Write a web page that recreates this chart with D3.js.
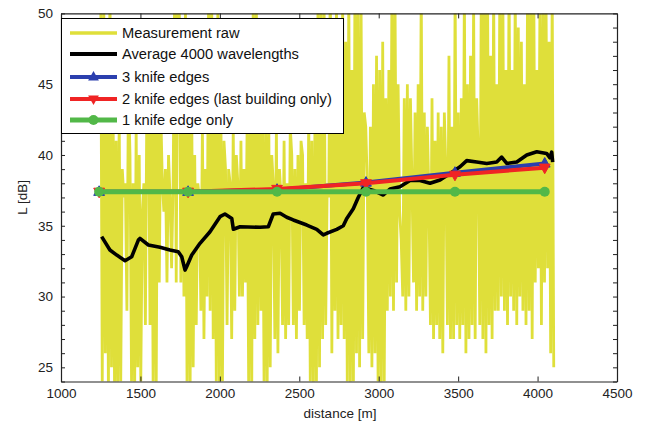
<!DOCTYPE html>
<html>
<head>
<meta charset="utf-8">
<script src="https://cdn.jsdelivr.net/npm/d3@7"></script>
<style>
  html, body { margin: 0; padding: 0; background: #fff; }
  svg { display: block; font-family: "Liberation Sans", Arial, sans-serif; }
</style>
</head>
<body>
<svg id="chart" width="648" height="428"></svg>
<script>
// ---------------- data ----------------
const xTickValues = [1000, 1500, 2000, 2500, 3000, 3500, 4000, 4500];
const yTickLabels = [25, 30, 35, 40, 45, 50];

// Measurement raw: sampled every 9.7 m starting at 1250 m
const rawStart = 1250;
const rawStep = 9.7;
const rawValues = [
  52, 24, 51, 26, 48, 23, 53, 25, 44, 23,
  41, 23, 43, 24, 39, 37, 38, 29, 45, 40,
  24, 38, 23, 42, 25, 40, 24, 36, 38, 28,
  45, 44, 28, 46, 24, 44, 23, 47, 31, 43,
  38, 36, 39, 31, 40, 37, 32, 38, 52, 31,
  53, 51, 31, 46, 30, 50, 24, 44, 23, 45,
  25, 40, 28, 38, 37, 29, 42, 27, 39, 30,
  51, 29, 52, 27, 47, 24, 50, 23, 43, 24,
  41, 39, 28, 39, 38, 27, 42, 29, 40, 38,
  30, 41, 30, 39, 31, 42, 24, 44, 23, 52,
  27, 51, 28, 46, 29, 43, 24, 42, 23, 44,
  25, 40, 38, 27, 42, 26, 39, 37, 28, 41,
  27, 38, 28, 42, 40, 28, 39, 27, 40, 29,
  41, 40, 28, 38, 27, 43, 24, 41, 23, 42,
  24, 51, 25, 52, 27, 50, 28, 38, 37, 53,
  26, 49, 29, 51, 27, 44, 28, 51, 27, 48,
  24, 52, 23, 46, 24, 53, 26, 51, 25, 50,
  27, 43, 42, 38, 26, 42, 25, 45, 26, 47,
  24, 46, 23, 48, 24, 44, 29, 46, 30, 52,
  29, 51, 31, 45, 36, 34, 30, 44, 29, 45,
  30, 44, 38, 31, 43, 29, 45, 30, 52, 29,
  43, 30, 42, 37, 28, 44, 27, 41, 28, 43,
  27, 42, 26, 43, 39, 28, 47, 27, 42, 27,
  52, 28, 43, 27, 44, 28, 52, 26, 45, 27,
  47, 28, 51, 27, 44, 40, 28, 53, 27, 52,
  26, 53, 28, 47, 27, 52, 29, 45, 29, 52,
  30, 51, 29, 46, 28, 53, 30, 46, 29, 52,
  28, 49, 30, 48, 29, 45, 28, 52, 29, 51,
  27, 53, 31, 46, 32, 50, 28, 52, 31, 51,
  32, 48, 26, 52, 25
];

// Average over 4000 wavelengths
const avgDistance = [1256, 1308, 1351, 1403, 1445, 1487, 1497, 1550, 1623, 1686,
  1738, 1760, 1781, 1791, 1823, 1875, 1938, 2001, 2032, 2075,
  2085, 2127, 2253, 2305, 2336, 2379, 2421, 2462, 2547, 2610,
  2651, 2673, 2736, 2777, 2798, 2840, 2871, 2903, 2966, 3029,
  3071, 3134, 3197, 3260, 3323, 3386, 3449, 3512, 3554, 3617,
  3680, 3743, 3774, 3806, 3869, 3932, 3995, 4057, 4078, 4089, 4095];
const avgValues = [34.23, 33.29, 32.93, 32.53, 32.81, 33.99, 34.11, 33.64, 33.48, 33.29,
  33.17, 32.81, 31.87, 32.11, 32.93, 33.76, 34.58, 35.64, 35.83, 35.52,
  34.75, 34.93, 34.89, 34.93, 35.83, 35.88, 35.60, 35.41, 35.05, 34.75,
  34.35, 34.47, 34.75, 35.0, 35.5, 36.2, 37.0, 37.7, 37.5, 37.17,
  37.6, 37.76, 38.2, 38.2, 38.0, 38.23, 38.7, 39.17, 39.6, 39.5,
  39.4, 39.5, 39.85, 39.4, 39.5, 40.0, 40.23, 40.11, 39.8, 40.2, 39.5];

// Model predictions
const modelDistance = [1240, 1800, 2360, 2920, 3480, 4045];
const knife3Values = [37.4, 37.4, 37.55, 38.05, 38.75, 39.4];
const knife2Values = [37.4, 37.4, 37.6, 38.0, 38.6, 39.1];
const knife1Values = [37.4, 37.4, 37.4, 37.4, 37.4, 37.4];

const legendLabels = ["Measurement raw", "Average 4000 wavelengths", "3 knife edges",
  "2 knife edges (last building only)", "1 knife edge only"];

// ---------------- drawing ----------------
const svg = d3.select("#chart");
const pLeft = 61, pRight = 617, pTop = 13.4, pBottom = 381.5;
const x = d3.scaleLinear().domain([1000, 4500]).range([pLeft, pRight]);
const y = d3.scaleLinear().domain([24, 50]).range([pBottom, pTop]);

const colYellow = "#dfdf3a", colBlue = "#2b3fae", colRed = "#f02424", colGreen = "#52b848";

svg.append("defs").append("clipPath").attr("id", "clip")
  .append("rect").attr("x", pLeft).attr("y", pTop).attr("width", pRight - pLeft).attr("height", pBottom - pTop);

const plot = svg.append("g").attr("clip-path", "url(#clip)");

const rawData = rawValues.map((v, i) => [rawStart + i * rawStep, v]);
const line = d3.line().x(d => x(d[0])).y(d => y(d[1]));

plot.append("path").datum(rawData).attr("d", line)
  .attr("fill", "none").attr("stroke", colYellow).attr("stroke-width", 2.8).attr("stroke-linejoin", "bevel");

plot.append("path").datum(avgDistance.map((d, i) => [d, avgValues[i]])).attr("d", line)
  .attr("fill", "none").attr("stroke", "#000").attr("stroke-width", 3.6).attr("stroke-linejoin", "round");

function triUp(cx, cy, r) { return `M${cx},${cy - r}L${cx + r * 0.9},${cy + r * 0.6}L${cx - r * 0.9},${cy + r * 0.6}Z`; }
function triDown(cx, cy, r) { return `M${cx},${cy + r}L${cx + r * 0.9},${cy - r * 0.6}L${cx - r * 0.9},${cy - r * 0.6}Z`; }

function drawModel(vals, color, width, marker) {
  const pts = modelDistance.map((d, i) => [d, vals[i]]);
  plot.append("path").datum(pts).attr("d", line)
    .attr("fill", "none").attr("stroke", color).attr("stroke-width", width);
  const g = plot.append("g");
  pts.forEach(p => {
    const cx = x(p[0]), cy = y(p[1]);
    if (marker === "circle") g.append("circle").attr("cx", cx).attr("cy", cy).attr("r", 5).attr("fill", color);
    else g.append("path").attr("d", marker === "up" ? triUp(cx, cy, 6) : triDown(cx, cy, 6))
      .attr("fill", color).attr("stroke", color).attr("stroke-width", 1);
  });
}
drawModel(knife3Values, colBlue, 4, "up");
drawModel(knife2Values, colRed, 4, "down");
drawModel(knife1Values, colGreen, 5, "circle");

// ---------------- axes ----------------
const axisColor = "#222";
const fontSize = 13.5;
const gx = svg.append("g").attr("transform", `translate(0,${pBottom})`)
  .call(d3.axisBottom(x).tickValues(xTickValues).tickSizeInner(-5).tickSizeOuter(0).tickPadding(9)
    .tickFormat(d3.format("d")));
const gxt = svg.append("g").attr("transform", `translate(0,${pTop})`)
  .call(d3.axisTop(x).tickValues(xTickValues).tickSizeInner(-5).tickSizeOuter(0).tickFormat(""));
const yTicks = d3.range(24, 51);
const gy = svg.append("g").attr("transform", `translate(${pLeft},0)`)
  .call(d3.axisLeft(y).tickValues(yTicks).tickSizeInner(-4).tickSizeOuter(0).tickPadding(8)
    .tickFormat(d => yTickLabels.includes(d) ? d : ""));
const gyr = svg.append("g").attr("transform", `translate(${pRight},0)`)
  .call(d3.axisRight(y).tickValues(yTicks).tickSizeInner(-4).tickSizeOuter(0).tickFormat(""));

[gx, gxt, gy, gyr].forEach(g => {
  g.selectAll("path.domain").attr("stroke", axisColor).attr("stroke-width", 1.2);
  g.selectAll(".tick line").attr("stroke", axisColor).attr("stroke-width", 1);
  g.selectAll("text").attr("fill", "#222").attr("font-size", fontSize)
    .attr("font-family", "'Liberation Sans', Arial, sans-serif");
});
gx.selectAll(".tick text").attr("dy", "0.55em");

svg.append("text").attr("x", (pLeft + pRight) / 2 + 1).attr("y", 418).attr("text-anchor", "middle")
  .attr("font-size", fontSize).attr("fill", "#222").text("distance [m]");
svg.append("text").attr("transform", `translate(27,${(pTop + pBottom) / 2}) rotate(-90)`)
  .attr("text-anchor", "middle").attr("font-size", fontSize).attr("fill", "#222").text("L [dB]");

// ---------------- legend ----------------
const lg = svg.append("g");
lg.append("rect").attr("x", pLeft + 0.5).attr("y", 18.5).attr("width", 282).attr("height", 115)
  .attr("fill", "#fff").attr("stroke", "#000").attr("stroke-width", 1);
const rowY = [33, 54, 77, 99, 120];
const legendStyles = [
  { color: colYellow, w: 3.5, marker: null },
  { color: "#000", w: 4, marker: null },
  { color: colBlue, w: 4, marker: "up" },
  { color: colRed, w: 4, marker: "down" },
  { color: colGreen, w: 5, marker: "circle" }
];
legendLabels.forEach((lab, i) => {
  const s = legendStyles[i], yy = rowY[i];
  lg.append("line").attr("x1", 70).attr("x2", 117).attr("y1", yy).attr("y2", yy)
    .attr("stroke", s.color).attr("stroke-width", s.w);
  if (s.marker === "circle") lg.append("circle").attr("cx", 93.5).attr("cy", yy).attr("r", 5).attr("fill", s.color);
  else if (s.marker) lg.append("path").attr("d", s.marker === "up" ? triUp(93.5, yy, 6) : triDown(93.5, yy, 6)).attr("fill", s.color);
  lg.append("text").attr("x", 122).attr("y", yy).attr("dy", "0.35em")
    .attr("font-size", 14.7).attr("fill", "#111").text(lab);
});
</script>
</body>
</html>
